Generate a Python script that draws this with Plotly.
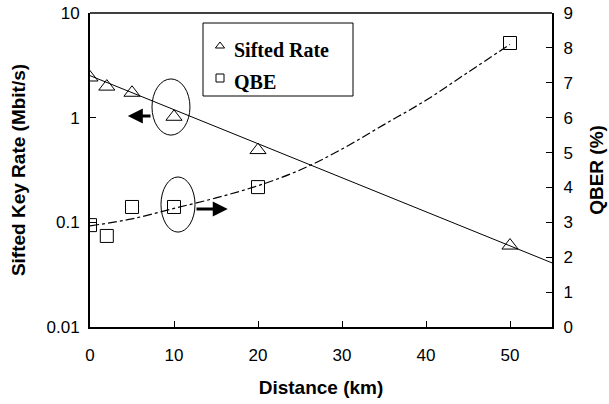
import plotly.graph_objects as go

# Data
distance_rate = [0, 2, 5, 10, 20, 50]
sifted_rate = [2.42, 1.98, 1.73, 1.02, 0.49, 0.060]

distance_qber = [0, 2, 5, 10, 20, 50]
qber = [2.92, 2.61, 3.44, 3.44, 4.01, 8.14]

# trend lines (as drawn in the reference)
rate_trend_x = [0, 55]
rate_trend_y = [2.52, 0.041]

qber_trend_x = [0, 5, 10, 15, 20, 25, 30, 35, 40, 45, 50]
qber_trend_y = [2.9, 3.1, 3.4, 3.7, 4.05, 4.5, 5.1, 5.8, 6.5, 7.3, 8.1]

x_ticks = [0, 10, 20, 30, 40, 50]
y_ticks = [0.01, 0.1, 1, 10]
y_tick_text = ["0.01", "0.1", "1", "10"]
y2_ticks = list(range(0, 10))

legend_labels = ["Sifted Rate", "QBE"]
legend_symbols = ["triangle-up-open", "square-open"]

FIG_W, FIG_H = 609, 404

fig = go.Figure()

fig.add_trace(go.Scatter(x=rate_trend_x, y=rate_trend_y, mode="lines",
                         line=dict(color="black", width=1), showlegend=False,
                         hoverinfo="skip"))
fig.add_trace(go.Scatter(x=qber_trend_x, y=qber_trend_y, mode="lines", yaxis="y2",
                         line=dict(color="black", width=1.2, dash="dashdot", shape="spline"),
                         showlegend=False, hoverinfo="skip"))
fig.add_trace(go.Scatter(x=distance_rate, y=sifted_rate, mode="markers", name=legend_labels[0],
                         showlegend=False,
                         marker=dict(symbol="triangle-up-open", size=14, color="black",
                                     line=dict(width=1))))
fig.add_trace(go.Scatter(x=distance_qber, y=qber, mode="markers", name=legend_labels[1], yaxis="y2",
                         showlegend=False,
                         marker=dict(symbol="square-open", size=13, color="black",
                                     line=dict(width=1))))

# plot area in screen pixels
L, R, T, B = 90, 552, 13, 327
W, H = R - L, B - T
def px(x):
    return (x - L) / W
def py(y):
    return (B - y) / H

# --- manual legend box ---
fig.add_shape(type="rect", xref="paper", yref="paper",
              x0=px(203), x1=px(353), y0=py(96), y1=py(23),
              line=dict(color="black", width=1), fillcolor="white", layer="below")
legend_y_px = [46, 78]
for lab, sym, ypix in zip(legend_labels, legend_symbols, legend_y_px):
    fig.add_trace(go.Scatter(x=[px(220)], y=[py(ypix)], xaxis="x3", yaxis="y3", mode="markers",
                             showlegend=False, hoverinfo="skip",
                             marker=dict(symbol=sym, size=8, color="black", line=dict(width=1))))
    fig.add_annotation(x=px(232), y=py(ypix + 4), xref="paper", yref="paper",
                       text="<b>" + lab + "</b>", showarrow=False, xanchor="left", yanchor="middle",
                       font=dict(family="Liberation Serif, Times New Roman", size=20, color="black"))

# ellipses (annotation circles) and arrows
fig.add_shape(type="circle", xref="x", yref="y2", x0=7.38, x1=11.9, y0=5.50, y1=7.11,
              line=dict(color="black", width=1))
fig.add_shape(type="circle", xref="x", yref="y2", x0=8.45, x1=12.5, y0=2.72, y1=4.30,
              line=dict(color="black", width=1))
fig.add_annotation(x=4.5, y=6.05, xref="x", yref="y2", ax=7.38, ay=6.05, axref="x", ayref="y2",
                   showarrow=True, arrowhead=2, arrowsize=1, arrowwidth=3, arrowcolor="black", text="")
fig.add_annotation(x=16.4, y=3.38, xref="x", yref="y2", ax=12.5, ay=3.38, axref="x", ayref="y2",
                   showarrow=True, arrowhead=2, arrowsize=1, arrowwidth=3, arrowcolor="black", text="")

fig.update_layout(
    width=FIG_W, height=FIG_H,
    margin=dict(l=L, r=FIG_W - R, t=T, b=FIG_H - B, autoexpand=False),
    paper_bgcolor="white", plot_bgcolor="rgba(0,0,0,0)",
    font=dict(family="Liberation Sans, Arial", size=17, color="black"),
    showlegend=False,
    xaxis=dict(range=[0, 55], tickvals=x_ticks, ticks="inside", ticklen=6, tickwidth=1,
               tickcolor="black", showline=True, linecolor="black", linewidth=2, mirror=False,
               showgrid=False, zeroline=False, automargin=False, ticklabelstandoff=12,
               title=dict(text="<b>Distance (km)</b>", font=dict(size=19), standoff=16)),
    yaxis=dict(type="log", range=[-2, 1], tickvals=y_ticks, ticktext=y_tick_text,
               ticks="inside", ticklen=6, tickcolor="black", showline=True, linecolor="black",
               linewidth=2, showgrid=False, zeroline=False, automargin=False,
               ticklabeloverflow="allow", ticklabelstandoff=5,
               title=dict(text="<b>Sifted Key Rate (Mbit/s)</b>", font=dict(size=19), standoff=16)),
    yaxis2=dict(overlaying="y", side="right", range=[0, 9], tickvals=y2_ticks,
                ticks="inside", ticklen=6, tickcolor="black", showline=True, linecolor="black",
                linewidth=2, showgrid=False, zeroline=False, automargin=False,
                ticklabeloverflow="allow", ticklabelstandoff=6,
                title=dict(text="<b>QBER (%)</b>", font=dict(size=19), standoff=18)),
    xaxis3=dict(overlaying="x", range=[0, 1], visible=False),
    yaxis3=dict(overlaying="y", range=[0, 1], visible=False),
)
# top border
fig.add_shape(type="line", xref="paper", yref="paper", x0=0, x1=1, y0=1, y1=1,
              line=dict(color="black", width=1.5))

fig.write_html("out.html", config={"displayModeBar": False},
               post_script="document.body.style.margin='0';")
